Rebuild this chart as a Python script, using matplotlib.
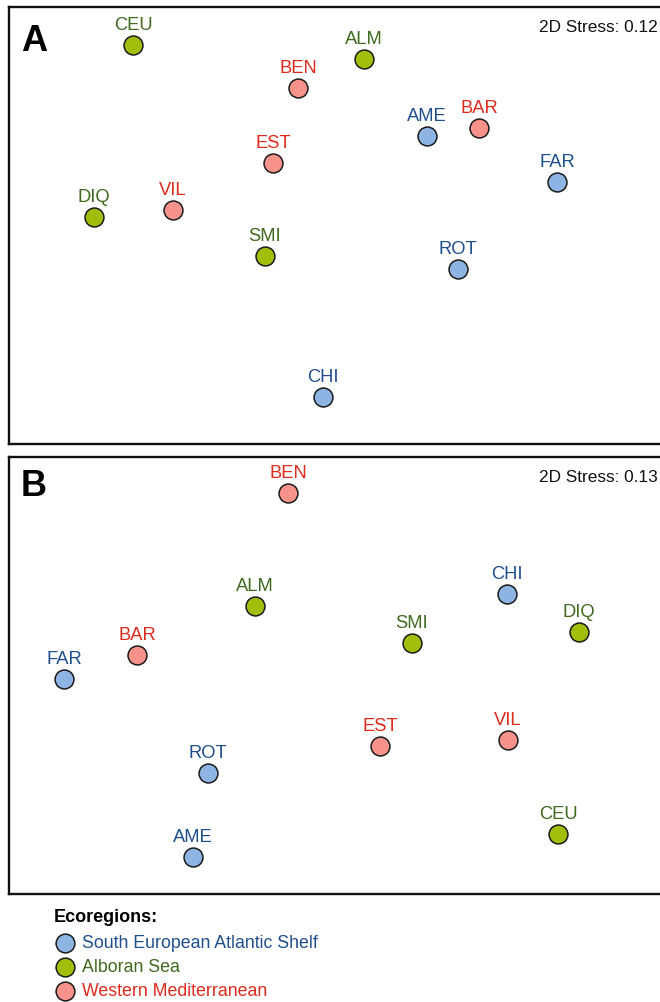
import matplotlib
matplotlib.use("Agg")
import matplotlib.pyplot as plt
from matplotlib.lines import Line2D

plt.rcParams['font.family'] = ['Liberation Sans', 'DejaVu Sans']

# region of each site: S = South European Atlantic Shelf, A = Alboran Sea, W = Western Mediterranean
regiones = {
    'CEU': 'A', 'ALM': 'A', 'DIQ': 'A', 'SMI': 'A',
    'BEN': 'W', 'BAR': 'W', 'EST': 'W', 'VIL': 'W',
    'AME': 'S', 'FAR': 'S', 'ROT': 'S', 'CHI': 'S',
}

# nMDS coordinates (arbitrary units, y grows downward)
sitios_a = ['CEU', 'ALM', 'BEN', 'AME', 'BAR', 'EST', 'FAR', 'DIQ', 'VIL', 'SMI', 'ROT', 'CHI']
x_a = [133, 364, 298, 427, 479, 273, 557, 94, 173, 265, 458, 323]
y_a = [38, 52, 81, 129, 121, 156, 175, 210, 203, 249, 262, 390]

sitios_b = ['BEN', 'ALM', 'CHI', 'DIQ', 'SMI', 'BAR', 'FAR', 'EST', 'VIL', 'ROT', 'CEU', 'AME']
x_b = [288, 255, 507, 579, 412, 137, 64, 380, 508, 208, 558, 193]
y_b = [36, 149, 137, 175, 186, 198, 222, 289, 283, 316, 377, 400]

stress_a = 0.12
stress_b = 0.13

relleno = {'S': '#8DB4E2', 'A': '#A0BE0A', 'W': '#F8938C'}
texto = {'S': '#1F4E8C', 'A': '#3F6A1E', 'W': '#DC2A1C'}
nombres = {'S': 'South European Atlantic Shelf', 'A': 'Alboran Sea', 'W': 'Western Mediterranean'}

W, H = 660, 1003
fig = plt.figure(figsize=(W / 100, H / 100), dpi=100)


def panel(y_top, y_bot, letra, base_letra, sitios, xs, ys, stress):
    x0, x1 = 9, 672
    ax = fig.add_axes([x0 / W, 1 - y_bot / H, (x1 - x0) / W, (y_bot - y_top) / H])
    ax.set_xlim(x0, x1)
    ax.set_ylim(y_bot - y_top, 0)
    ax.set_xticks([])
    ax.set_yticks([])
    for s in ax.spines.values():
        s.set_linewidth(1.7)
        s.set_color('#111111')
    for nom, x, y in zip(sitios, xs, ys):
        r = regiones[nom]
        ax.scatter(x, y, s=185, facecolor=relleno[r], edgecolor='#1a1a1a', linewidth=1.1, zorder=3)
        ax.annotate(nom, (x, y), xytext=(0, 11.5), textcoords='offset points',
                    ha='center', va='baseline', fontsize=13.2, color=texto[r])
    ax.text(21, base_letra, letra, fontsize=26, fontweight='bold', ha='left', va='baseline', color='black')
    ax.text(658, 24.5, f'2D Stress: {stress:.2f}', fontsize=12.4, ha='right', va='baseline', color='#111111')
    return ax


panel(8, 445, 'A', 43, sitios_a, x_a, y_a, stress_a)
panel(458, 895, 'B', 38, sitios_b, x_b, y_b, stress_b)

# legend
fig.text(54 / W, 1 - 922 / H, 'Ecoregions:', fontsize=13, fontweight='bold', ha='left', va='baseline')
for i, r in enumerate(['S', 'A', 'W']):
    yc = 944 + 24 * i
    fig.add_artist(Line2D([65 / W], [1 - yc / H], marker='o', markersize=13.5,
                          markerfacecolor=relleno[r], markeredgecolor='#1a1a1a', markeredgewidth=1.1,
                          linestyle='none', transform=fig.transFigure))
    fig.text(82 / W, 1 - yc / H, nombres[r], fontsize=12.8, color=texto[r], ha='left', va='center')

fig.savefig('out.png', dpi=100, facecolor='white')
